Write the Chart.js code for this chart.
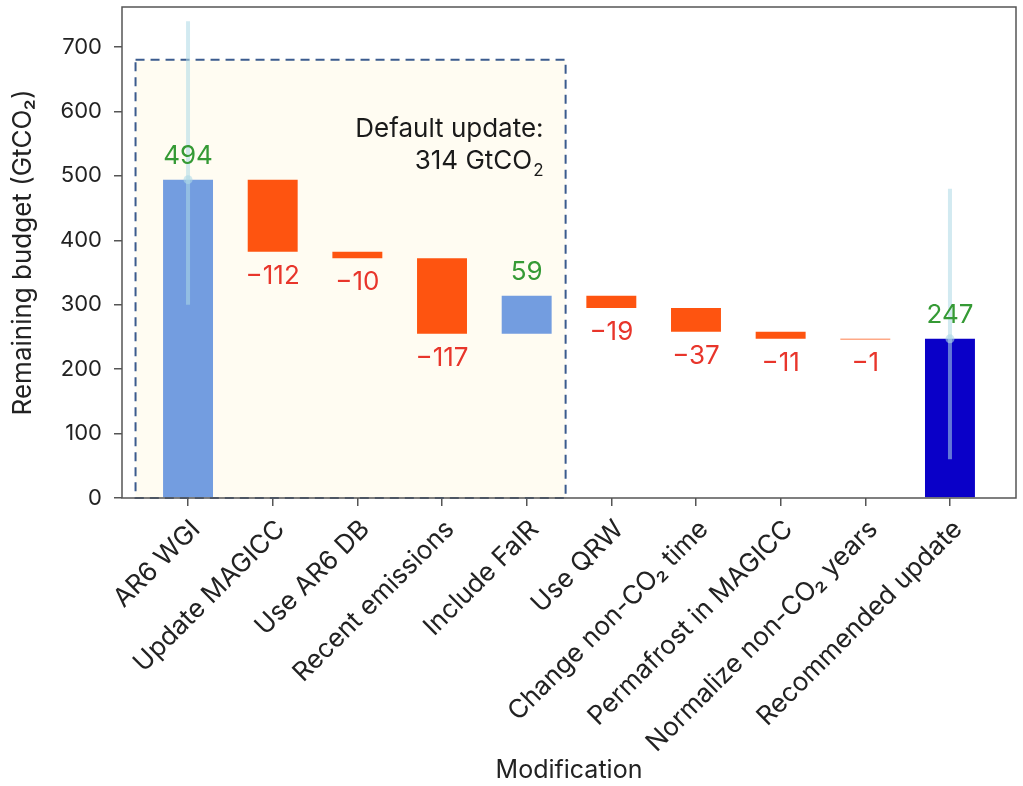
<!DOCTYPE html>
<html><head><meta charset="utf-8">
<script src="https://cdn.jsdelivr.net/npm/chart.js@4.4.0/dist/chart.umd.min.js"></script>
<style>html,body{margin:0;padding:0;background:#fff;}#wrap{width:1023px;height:786px;position:relative;}</style>
</head><body><div id="wrap"><canvas id="c" width="1023" height="786"></canvas></div>
<script>
const categories = ["AR6 WGI","Update MAGICC","Use AR6 DB","Recent emissions","Include FaIR","Use QRW","Change non-CO\u2082 time","Permafrost in MAGICC","Normalize non-CO\u2082 years","Recommended update"];
const startBudget = 494;
const changes = [-112, -10, -117, 59, -19, -37, -11, -1];
const finalBudget = 247;
const errorCategory = [0, 9];
const errorLow = [300, 60];
const errorHigh = [740, 480];
const yTicks = [0, 100, 200, 300, 400, 500, 600, 700];
const defaultBox = {xMin: -0.62, xMax: 4.46, yMin: 0, yMax: 680};
const noteAnchor = {x: 4.2, y: 575};
const noteLines = ["Default update:", "314 GtCO", "2"];

const FONT = "Inter, 'Liberation Sans', sans-serif";
const C_BLUE = '#739de0', C_RED = '#fe5410', C_DARK = '#0a00c8';

// waterfall bars
const bars = [], barColors = [], barValues = [];
let level = startBudget;
bars.push({x: 0, y: [0, startBudget]}); barColors.push(C_BLUE); barValues.push(startBudget);
changes.forEach((d, i) => {
  bars.push({x: i + 1, y: [level, level + d]});
  barColors.push(d > 0 ? C_BLUE : C_RED);
  barValues.push(d);
  level += d;
});
bars.push({x: categories.length - 1, y: [0, finalBudget]}); barColors.push(C_DARK); barValues.push(finalBudget);
const isTotal = barValues.map((v, i) => i === 0 || i === barValues.length - 1);

const errorSets = errorCategory.map((c, i) => ({
  type: 'line', data: [{x: c, y: errorLow[i]}, {x: c, y: errorHigh[i]}],
  borderColor: 'rgba(173,216,230,0.55)', borderWidth: 4, pointRadius: 0, order: 1, borderCapStyle: 'butt'
}));
const dotSet = {
  type: 'scatter', data: errorCategory.map((c, i) => ({x: c, y: i === 0 ? startBudget : finalBudget})),
  pointRadius: 4.5, pointBorderWidth: 0, backgroundColor: 'rgba(173,216,230,0.6)', order: 0
};

const boxPlugin = {
  id: 'box',
  beforeDatasetsDraw(chart) {
    const {ctx, scales: {x, y}} = chart;
    const l = x.getPixelForValue(defaultBox.xMin), r = x.getPixelForValue(defaultBox.xMax);
    const t = y.getPixelForValue(defaultBox.yMax), b = y.getPixelForValue(defaultBox.yMin);
    ctx.save();
    ctx.fillStyle = '#fffcf2';
    ctx.fillRect(l, t, r - l, b - t);
    ctx.setLineDash([9, 6]);
    ctx.strokeStyle = '#3b5b8e';
    ctx.lineWidth = 2;
    ctx.strokeRect(l, t, r - l, b - t);
    ctx.restore();
  },
  afterDatasetsDraw(chart) {
    const {ctx, scales: {x, y}} = chart;
    const meta = chart.getDatasetMeta(0);
    ctx.save();
    ctx.font = `26px ${FONT}`;
    ctx.textAlign = 'center';
    ctx.textBaseline = 'alphabetic';
    meta.data.forEach((el, i) => {
      const top = Math.min(el.y, el.base), bot = Math.max(el.y, el.base);
      const v = barValues[i];
      if (isTotal[i] || v > 0) {
        ctx.fillStyle = '#359a35';
        ctx.fillText(String(Math.abs(v)), el.x, top - 16);
      } else {
        ctx.fillStyle = '#e8352b';
        ctx.fillText('\u2212' + Math.abs(v), el.x, bot + 32);
      }
    });
    // note
    const nx = x.getPixelForValue(noteAnchor.x), ny = y.getPixelForValue(noteAnchor.y);
    ctx.fillStyle = '#1a1a1a';
    ctx.textAlign = 'right';
    ctx.font = `26px ${FONT}`;
    ctx.fillText(noteLines[0], nx, ny + 10);
    ctx.font = `17px ${FONT}`;
    const w2 = ctx.measureText(noteLines[2]).width;
    ctx.fillText(noteLines[2], nx, ny + 49);
    ctx.font = `26px ${FONT}`;
    ctx.fillText(noteLines[1], nx - w2 - 1, ny + 42);
    ctx.restore();
  },
  afterDraw(chart) {
    const {ctx, chartArea: a} = chart;
    ctx.save();
    ctx.strokeStyle = '#555';
    ctx.lineWidth = 1.5;
    ctx.strokeRect(a.left, a.top, a.right - a.left, a.bottom - a.top);
    ctx.restore();
  }
};

function zeroPad(s) { s.paddingTop = 0; s.paddingBottom = 0; s.paddingLeft = 0; s.paddingRight = 0; }

new Chart(document.getElementById('c'), {
  type: 'bar',
  data: {
    datasets: [
      {type: 'bar', data: bars, backgroundColor: barColors, borderWidth: 0, categoryPercentage: 1, barPercentage: 0.59, order: 2},
      ...errorSets, dotSet
    ]
  },
  options: {
    responsive: false, animation: false, events: [],
    layout: {padding: {top: 7, right: 7, left: 0, bottom: 0}},
    plugins: {legend: {display: false}, tooltip: {enabled: false}},
    scales: {
      x: {
        type: 'linear', min: -0.78, max: 9.78, offset: false,
        afterBuildTicks: s => { s.ticks = categories.map((c, i) => ({value: i})); },
        afterFit: s => { s.height = 288; zeroPad(s); },
        ticks: {callback: v => categories[v], minRotation: 45, maxRotation: 45, autoSkip: false, color: '#222', font: {size: 26, family: FONT}, padding: 8, labelOffset: 8},
        grid: {offset: false, drawOnChartArea: false, drawTicks: true, tickLength: 8, color: '#555', lineWidth: 1.5},
        border: {display: false},
        title: {display: true, text: 'Modification', color: '#222', font: {size: 25, family: FONT}, padding: {top: 0, bottom: 1}}
      },
      y: {
        type: 'linear', min: 0, max: 762,
        afterBuildTicks: s => { s.ticks = yTicks.map(v => ({value: v})); },
        afterFit: s => { s.width = 122; zeroPad(s); },
        ticks: {color: '#222', font: {size: 22, family: FONT}, padding: 12},
        grid: {drawOnChartArea: false, drawTicks: true, tickLength: 8, color: '#555', lineWidth: 1.5},
        border: {display: false},
        title: {display: true, text: 'Remaining budget (GtCO\u2082)', color: '#222', font: {size: 26, family: FONT}, padding: {top: 8, bottom: 0}}
      }
    }
  },
  plugins: [boxPlugin]
});
</script></body></html>
